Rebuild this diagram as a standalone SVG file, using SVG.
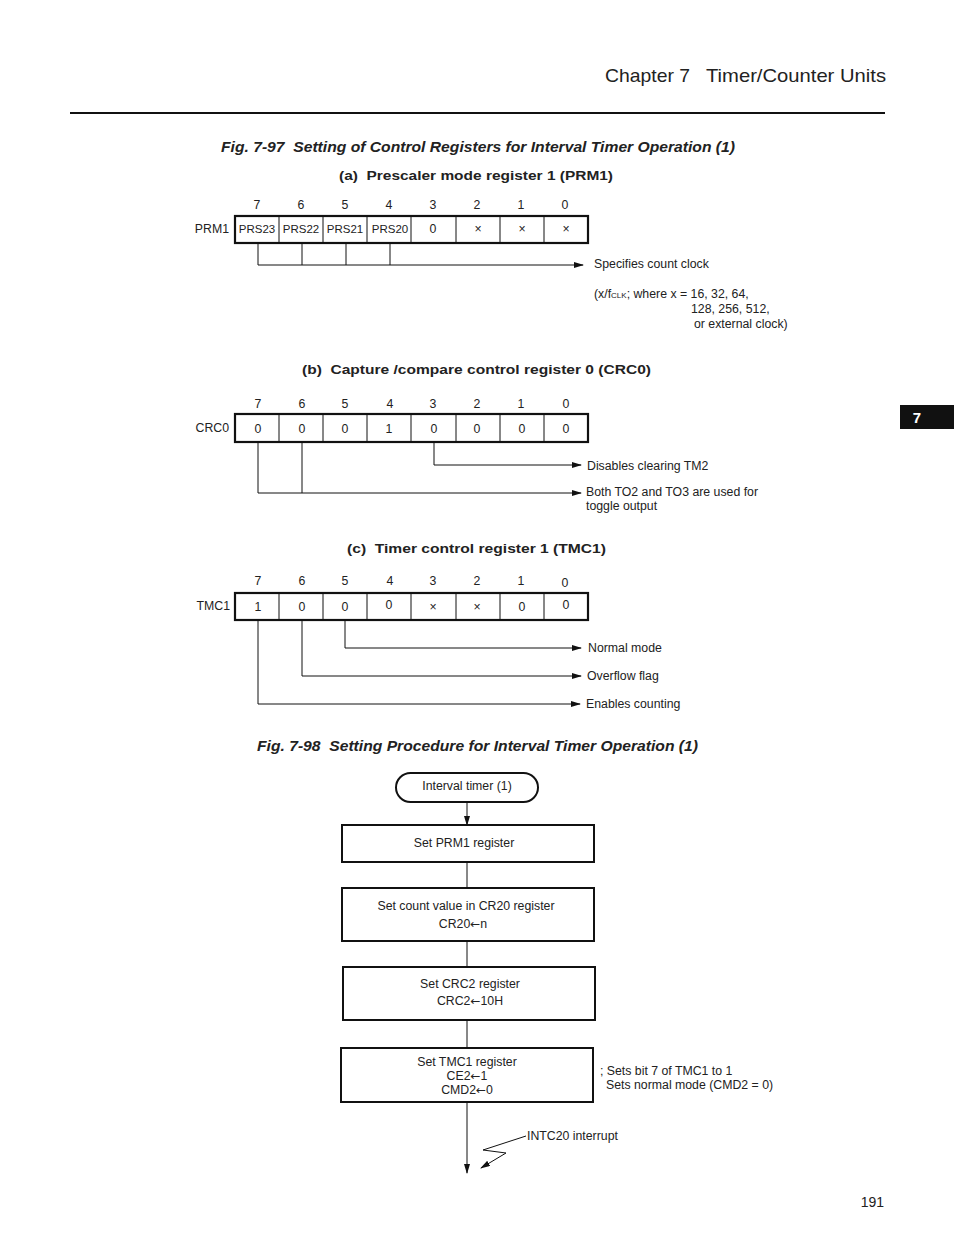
<svg xmlns="http://www.w3.org/2000/svg" width="954" height="1235" viewBox="0 0 954 1235">
<style>
text{font-family:"Liberation Sans",Arial,sans-serif;fill:#222;white-space:pre}
.t{font-size:12.3px}
.s{font-size:11.5px}
.c{text-anchor:middle}
.e{text-anchor:end}
.bi{font-weight:bold;font-style:italic;font-size:15px}
.h{font-size:13.5px;font-weight:bold}
.ar{font-family:"DejaVu Sans",sans-serif;font-size:12px}
.thin{stroke:#111;stroke-width:1;fill:none}
.thick{stroke:#111;stroke-width:2.2;fill:none}
.box{stroke:#111;stroke-width:2;fill:#fff}
.ln{stroke:#111;stroke-width:1;fill:none}
</style>
<defs>
<marker id="ah" markerWidth="10" markerHeight="6" refX="9" refY="3" orient="auto" markerUnits="userSpaceOnUse">
<path d="M0,0 L10,3 L0,6 Z" fill="#111"/>
</marker>
</defs>
<rect width="954" height="1235" fill="#fff"/>

<g id="header">
<text x="605" y="82" style="font-size:19px" textLength="85" lengthAdjust="spacingAndGlyphs">Chapter 7</text>
<text x="706" y="82" style="font-size:19px" textLength="180" lengthAdjust="spacingAndGlyphs">Timer/Counter Units</text>
<line x1="70" y1="113" x2="885" y2="113" stroke="#111" stroke-width="2"/>
</g>

<g id="side-tab">
<rect x="900" y="405" width="54" height="24" fill="#111"/>
<text x="917" y="423" class="c" style="font-size:15px;font-weight:bold;fill:#fff">7</text>
</g>

<text x="221" y="152" class="bi" textLength="514" lengthAdjust="spacingAndGlyphs">Fig. 7-97  Setting of Control Registers for Interval Timer Operation (1)</text>

<!-- (a) PRM1 -->
<text x="339" y="180" class="h" textLength="274" lengthAdjust="spacingAndGlyphs">(a)  Prescaler mode register 1 (PRM1)</text>
<g id="prm1">
<text x="257" y="209" class="t c">7</text><text x="301" y="209" class="t c">6</text><text x="345" y="209" class="t c">5</text><text x="389" y="209" class="t c">4</text>
<text x="433" y="209" class="t c">3</text><text x="477" y="209" class="t c">2</text><text x="521" y="209" class="t c">1</text><text x="565" y="209" class="t c">0</text>
<text x="229" y="233" class="t e">PRM1</text>
<rect x="235" y="216" width="353" height="27" class="thick"/>
<path d="M279,216V243M323,216V243M367,216V243M411,216V243M456,216V243M500,216V243M544,216V243" class="thin"/>
<text x="257" y="233" class="s c">PRS23</text><text x="301" y="233" class="s c">PRS22</text><text x="345" y="233" class="s c">PRS21</text><text x="390" y="233" class="s c">PRS20</text>
<text x="433" y="233" class="t c">0</text><text x="478" y="233" class="t c">×</text><text x="522" y="233" class="t c">×</text><text x="566" y="233" class="t c">×</text>
<text x="594" y="268" class="t">Specifies count clock</text>
<text x="594" y="298" class="t">(x/f<tspan style="font-size:8px">CLK</tspan>; where x = 16, 32, 64,</text>
<text x="691" y="313" class="t">128, 256, 512,</text>
<text x="694" y="328" class="t">or external clock)</text>
</g>

<!-- (b) CRC0 -->
<text x="302" y="374" class="h" textLength="349" lengthAdjust="spacingAndGlyphs">(b)  Capture /compare control register 0 (CRC0)</text>
<g id="crc0">
<text x="258" y="408" class="t c">7</text><text x="302" y="408" class="t c">6</text><text x="345" y="408" class="t c">5</text><text x="390" y="408" class="t c">4</text>
<text x="433" y="408" class="t c">3</text><text x="477" y="408" class="t c">2</text><text x="521" y="408" class="t c">1</text><text x="566" y="408" class="t c">0</text>
<text x="229" y="432" class="t e">CRC0</text>
<rect x="235" y="414" width="353" height="28" class="thick"/>
<path d="M279,414V442M323,414V442M367,414V442M411,414V442M456,414V442M500,414V442M544,414V442" class="thin"/>
<text x="258" y="433" class="t c">0</text><text x="302" y="433" class="t c">0</text><text x="345" y="433" class="t c">0</text><text x="389" y="433" class="t c">1</text>
<text x="434" y="433" class="t c">0</text><text x="477" y="433" class="t c">0</text><text x="522" y="433" class="t c">0</text><text x="566" y="433" class="t c">0</text>
<text x="587" y="470" class="t">Disables clearing TM2</text>
<text x="586" y="496" class="t">Both TO2 and TO3 are used for</text>
<text x="586" y="510" class="t">toggle output</text>
</g>

<!-- (c) TMC1 -->
<text x="347" y="553" class="h" textLength="259" lengthAdjust="spacingAndGlyphs">(c)  Timer control register 1 (TMC1)</text>
<g id="tmc1">
<text x="258" y="585" class="t c">7</text><text x="302" y="585" class="t c">6</text><text x="345" y="585" class="t c">5</text><text x="390" y="585" class="t c">4</text>
<text x="433" y="585" class="t c">3</text><text x="477" y="585" class="t c">2</text><text x="521" y="585" class="t c">1</text><text x="565" y="587" class="t c">0</text>
<text x="230" y="610" class="t e">TMC1</text>
<rect x="235" y="593" width="353" height="27" class="thick"/>
<path d="M279,593V620M323,593V620M367,593V620M411,593V620M456,593V620M500,593V620M544,593V620" class="thin"/>
<text x="258" y="611" class="t c">1</text><text x="302" y="611" class="t c">0</text><text x="345" y="611" class="t c">0</text><text x="389" y="609" class="t c">0</text>
<text x="433" y="611" class="t c">×</text><text x="477" y="611" class="t c">×</text><text x="522" y="611" class="t c">0</text><text x="566" y="609" class="t c">0</text>
<text x="588" y="652" class="t">Normal mode</text>
<text x="587" y="680" class="t">Overflow flag</text>
<text x="586" y="708" class="t">Enables counting</text>
</g>

<text x="257" y="751" class="bi" textLength="441" lengthAdjust="spacingAndGlyphs">Fig. 7-98  Setting Procedure for Interval Timer Operation (1)</text>

<!-- Flowchart nodes -->
<g id="start">
<rect x="396" y="773" width="142" height="29" rx="14.5" ry="14.5" class="box" stroke-width="1.6"/>
<text x="467" y="790" class="t c">Interval timer (1)</text>
</g>
<g id="step1">
<rect x="342" y="825" width="252" height="37" class="box"/>
<text x="464" y="847" class="t c">Set PRM1 register</text>
</g>
<g id="step2">
<rect x="342" y="888" width="252" height="53" class="box"/>
<text x="466" y="910" class="t c">Set count value in CR20 register</text>
<text x="463" y="928" class="t c">CR20<tspan class="ar">←</tspan>n</text>
</g>
<g id="step3">
<rect x="343" y="967" width="252" height="53" class="box"/>
<text x="470" y="988" class="t c">Set CRC2 register</text>
<text x="470" y="1005" class="t c">CRC2<tspan class="ar">←</tspan>10H</text>
</g>
<g id="step4">
<rect x="341" y="1048" width="252" height="54" class="box"/>
<text x="467" y="1066" class="t c">Set TMC1 register</text>
<text x="467" y="1080" class="t c">CE2<tspan class="ar">←</tspan>1</text>
<text x="467" y="1094" class="t c">CMD2<tspan class="ar">←</tspan>0</text>
</g>
<g id="note">
<text x="600" y="1075" class="t">; Sets bit 7 of TMC1 to 1</text>
<text x="606" y="1089" class="t">Sets normal mode (CMD2 = 0)</text>
<text x="527" y="1140" class="t">INTC20 interrupt</text>
</g>

<g id="connectors">
<path d="M258,243V265M302,243V265M346,243V265M390,243V265M258,265H583" class="ln" marker-end="url(#ah)"/>
<path d="M434,442V465H581" class="ln" marker-end="url(#ah)"/>
<path d="M258,442V493H581" class="ln" marker-end="url(#ah)"/>
<path d="M302,442V493" class="ln"/>
<path d="M345,620V648H581" class="ln" marker-end="url(#ah)"/>
<path d="M302,620V676H581" class="ln" marker-end="url(#ah)"/>
<path d="M258,620V704H580" class="ln" marker-end="url(#ah)"/>
<path d="M467,802V825" class="ln" marker-end="url(#ah)"/>
<path d="M467,862V888" class="ln"/>
<path d="M467,941V967" class="ln"/>
<path d="M467,1020V1048" class="ln"/>
<path d="M467,1102V1173" class="ln" marker-end="url(#ah)"/>
<path d="M526,1136L483,1150L506,1153L481,1168" class="ln" marker-end="url(#ah)"/>
</g>

<text x="884" y="1207" class="e" style="font-size:14px">191</text>
</svg>
